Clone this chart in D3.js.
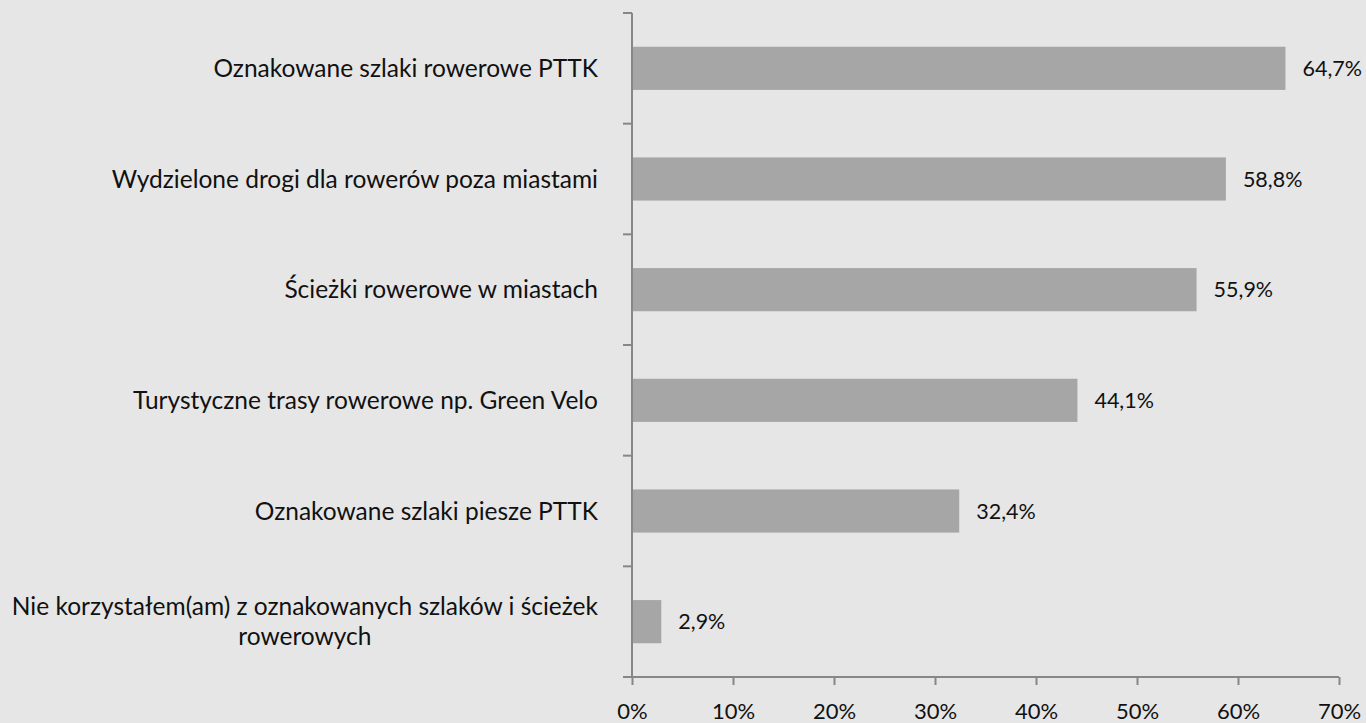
<!DOCTYPE html>
<html>
<head>
<meta charset="utf-8">
<script src="https://cdn.jsdelivr.net/npm/d3@7"></script>
<style>
  body { margin: 0; background: #e6e6e6; }
  svg { display: block; font-family: Lato, "Open Sans", sans-serif; }
</style>
</head>
<body>
<svg id="chart"></svg>
<script>
"use strict";

var categories = [
    "Oznakowane szlaki rowerowe PTTK",
    "Wydzielone drogi dla rowerów poza miastami",
    "Ścieżki rowerowe w miastach",
    "Turystyczne trasy rowerowe np. Green Velo",
    "Oznakowane szlaki piesze PTTK",
    "Nie korzystałem(am) z oznakowanych szlaków i ścieżek|rowerowych"
];
var values = [64.7, 58.8, 55.9, 44.1, 32.4, 2.9];
var xTicks = [0, 10, 20, 30, 40, 50, 60, 70];

var width = 1366, height = 723;
var plotLeft = 632, plotRight = 1339, plotTop = 13, plotBottom = 677;

var svg = d3.select("#chart")
    .attr("width", width)
    .attr("height", height);

svg.append("rect")
    .attr("width", width)
    .attr("height", height)
    .style("fill", "#e6e6e6");

var xScale = d3.scaleLinear().domain([0, 70]).range([plotLeft, plotRight]);
var yScale = d3.scaleBand().domain(categories).range([plotTop, plotBottom]).paddingInner(0.61).paddingOuter(0.305);
var yBand = d3.scaleBand().domain(categories).range([plotTop, plotBottom]);

var axisColor = "#878787";
var textColor = "#111";

// bars
svg.append("g")
    .selectAll("rect")
    .data(values)
    .enter()
    .append("rect")
    .attr("x", xScale(0))
    .attr("y", (d, i) => yScale(categories[i]))
    .attr("width", d => xScale(d) - xScale(0))
    .attr("height", yScale.bandwidth())
    .style("fill", "#a6a6a6");

// value labels
svg.append("g")
    .selectAll("text")
    .data(values)
    .enter()
    .append("text")
    .attr("x", d => xScale(d) + 17)
    .attr("y", (d, i) => yScale(categories[i]) + yScale.bandwidth() / 2)
    .attr("dy", "0.35em")
    .style("font-size", "21.5px")
    .style("fill", textColor)
    .text(d => d.toFixed(1).replace(".", ",") + "%");

// x axis
var xAxis = d3.axisBottom(xScale)
    .tickValues(xTicks)
    .tickSize(8)
    .tickPadding(18)
    .tickFormat(d => d + "%");
var gx = svg.append("g").attr("transform", "translate(0," + plotBottom + ")").call(xAxis);
gx.attr("font-family", null).attr("font-size", null);
gx.select(".domain").attr("d", "M" + plotLeft + ",0H" + plotRight).style("stroke", axisColor).style("stroke-width", 2);
gx.selectAll(".tick line").style("stroke", axisColor).style("stroke-width", 2);
gx.selectAll(".tick text").style("font-size", "22px").style("fill", textColor);

// y axis
var yAxis = d3.axisLeft(yBand).tickSize(0).tickFormat("");
var gy = svg.append("g").attr("transform", "translate(" + plotLeft + ",0)").call(yAxis);
gy.select(".domain").attr("d", "M0," + plotTop + "V" + plotBottom).style("stroke", axisColor).style("stroke-width", 2);
gy.selectAll(".tick").remove();
var yTickPos = categories.map(c => yBand(c)).concat([plotBottom]);
gy.selectAll(".ytick")
    .data(yTickPos)
    .enter()
    .append("line")
    .attr("x1", -9).attr("x2", 0)
    .attr("y1", d => d).attr("y2", d => d)
    .style("stroke", axisColor)
    .style("stroke-width", 2);

// category labels (wrapped lines centered, block right-aligned)
var labelRight = 598;
categories.forEach(function(c, i) {
    var lines = c.split("|");
    var cy = yBand(c) + yBand.bandwidth() / 2;
    var lh = 30;
    var g = svg.append("g");
    var texts = lines.map(function(l, j) {
        return g.append("text")
            .attr("y", cy + (j - (lines.length - 1) / 2) * lh)
            .attr("dy", "0.35em")
            .style("font-size", "24.5px")
            .style("fill", textColor)
            .text(l);
    });
    var maxW = d3.max(texts, t => t.node().getComputedTextLength());
    var center = labelRight - maxW / 2;
    texts.forEach(t => t.attr("x", center).attr("text-anchor", "middle"));
});
</script>
</body>
</html>
